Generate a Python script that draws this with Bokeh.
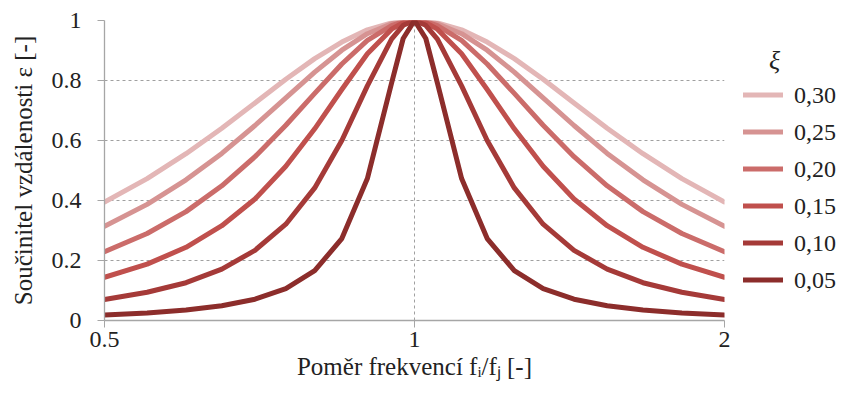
from bokeh.plotting import figure
from bokeh.layouts import row
from bokeh.models import (FixedTicker, CustomJSTickFormatter, Legend,
                          LegendItem, Range1d)
from bokeh.embed import file_html
from bokeh.resources import INLINE

# ---- data ----
ratio = [0.5, 0.55, 0.6, 0.65, 0.7, 0.75, 0.8, 0.85, 0.9, 0.95, 0.975, 1.0,
         1.0256, 1.0526, 1.1111, 1.1765, 1.25, 1.3333, 1.4286, 1.5385,
         1.6667, 1.8182, 2.0]

xi_labels = ["0,30", "0,25", "0,20", "0,15", "0,10", "0,05"]

eps_030 = [0.395, 0.473, 0.556, 0.641, 0.725, 0.804, 0.873, 0.928, 0.969, 0.992, 0.998, 1.0,
           0.998, 0.992, 0.969, 0.928, 0.873, 0.804, 0.725, 0.641, 0.556, 0.473, 0.395]
eps_025 = [0.314, 0.387, 0.469, 0.557, 0.650, 0.742, 0.828, 0.901, 0.956, 0.989, 0.997, 1.0,
           0.997, 0.989, 0.956, 0.901, 0.828, 0.742, 0.650, 0.557, 0.469, 0.387, 0.314]
eps_020 = [0.229, 0.290, 0.363, 0.449, 0.546, 0.651, 0.757, 0.855, 0.934, 0.983, 0.996, 1.0,
           0.996, 0.983, 0.934, 0.855, 0.757, 0.651, 0.546, 0.449, 0.363, 0.290, 0.229]
eps_015 = [0.144, 0.188, 0.244, 0.316, 0.405, 0.514, 0.639, 0.770, 0.889, 0.971, 0.993, 1.0,
           0.993, 0.971, 0.889, 0.770, 0.639, 0.514, 0.405, 0.316, 0.244, 0.188, 0.144]
eps_010 = [0.070, 0.094, 0.126, 0.171, 0.234, 0.321, 0.442, 0.600, 0.782, 0.938, 0.984, 1.0,
           0.984, 0.938, 0.782, 0.600, 0.442, 0.321, 0.234, 0.171, 0.126, 0.094, 0.070]
eps_005 = [0.018, 0.025, 0.035, 0.049, 0.071, 0.106, 0.166, 0.273, 0.473, 0.791, 0.940, 1.0,
           0.940, 0.791, 0.473, 0.273, 0.166, 0.106, 0.071, 0.049, 0.035, 0.025, 0.018]

series = [eps_030, eps_025, eps_020, eps_015, eps_010, eps_005]
colors = ["#E3B6B6", "#D69392", "#CB6C6A", "#C0504D", "#A53A38", "#8C2D2B"]

x_ticks = [0.5, 1, 2]
y_ticks = [0, 0.2, 0.4, 0.6, 0.8, 1]

FONT = "Liberation Serif"
TXT = "#222222"
AX = "#A6A6A6"

p = figure(width=740, height=389, x_axis_type="log",
           x_range=Range1d(0.5, 2), y_range=Range1d(0, 1),
           output_backend="svg", toolbar_location=None,
           min_border_left=104, min_border_right=16,
           min_border_top=20, min_border_bottom=69)
p.outline_line_color = None

fmt = "return tick.toString();"
p.xaxis.ticker = FixedTicker(ticks=x_ticks)
p.yaxis.ticker = FixedTicker(ticks=y_ticks)
p.xaxis.formatter = CustomJSTickFormatter(code=fmt)
p.yaxis.formatter = CustomJSTickFormatter(code=fmt)
for ax in (p.xaxis, p.yaxis):
    ax.axis_line_color = AX
    ax.axis_line_width = 1.3
    ax.major_tick_line_color = AX
    ax.major_tick_in = 0
    ax.major_tick_out = 7
    ax.minor_tick_line_color = None
    ax.major_label_text_font = FONT
    ax.major_label_text_font_size = "24px"
    ax.major_label_text_color = TXT
    ax.axis_label_text_font = FONT
    ax.axis_label_text_font_size = "25px"
    ax.axis_label_text_font_style = "normal"
    ax.axis_label_text_color = TXT
p.yaxis.major_label_standoff = 16
p.xaxis.major_label_standoff = 4
p.xaxis.axis_label = "Poměr frekvencí fᵢ/fⱼ [-]"
p.xaxis.axis_label_standoff = 3
p.yaxis.axis_label = "Součinitel vzdálenosti ε [-]"
p.yaxis.axis_label_standoff = 12

p.xgrid.ticker = FixedTicker(ticks=[1, 2])
p.ygrid.ticker = FixedTicker(ticks=[0.2, 0.4, 0.6, 0.8, 1])
for g in (p.xgrid, p.ygrid):
    g.grid_line_color = "#A0A0A0"
    g.grid_line_dash = "3 3"
    g.grid_line_width = 1

for ys, c in zip(series, colors):
    p.line(ratio, ys, line_width=5, color=c, line_join="round", line_cap="round")

# legend panel: a small figure next to the chart; its copies of the series
# lie outside its (empty) view and only carry the legend glyphs
lg = figure(width=97, height=389, x_range=Range1d(10, 11), y_range=Range1d(10, 11),
            x_axis_location=None, y_axis_location=None,
            output_backend="svg", toolbar_location=None,
            min_border_top=20, min_border_left=3, min_border_right=0, min_border_bottom=69)
lg.outline_line_color = None
lg.xgrid.visible = False
lg.ygrid.visible = False
leg_renderers = [lg.line(ratio, ys, line_width=5, color=c, line_cap="round")
                 for ys, c in zip(series, colors)]

legend = Legend(items=[LegendItem(label=l, renderers=[r]) for l, r in zip(xi_labels, leg_renderers)],
                location="center_left", padding=0, margin=0, spacing=7,
                glyph_width=40, glyph_height=30, label_height=30, label_standoff=11,
                label_text_font=FONT, label_text_font_size="24px", label_text_color=TXT,
                title="\u00a0\u00a0\u00a0\u00a0ξ", title_text_font=FONT, title_text_font_style="italic",
                title_text_font_size="26px", title_text_color=TXT, title_standoff=4,
                border_line_color=None, background_fill_alpha=0)
lg.add_layout(legend, "center")

open("out.html", "w").write(file_html(row(p, lg), INLINE))
